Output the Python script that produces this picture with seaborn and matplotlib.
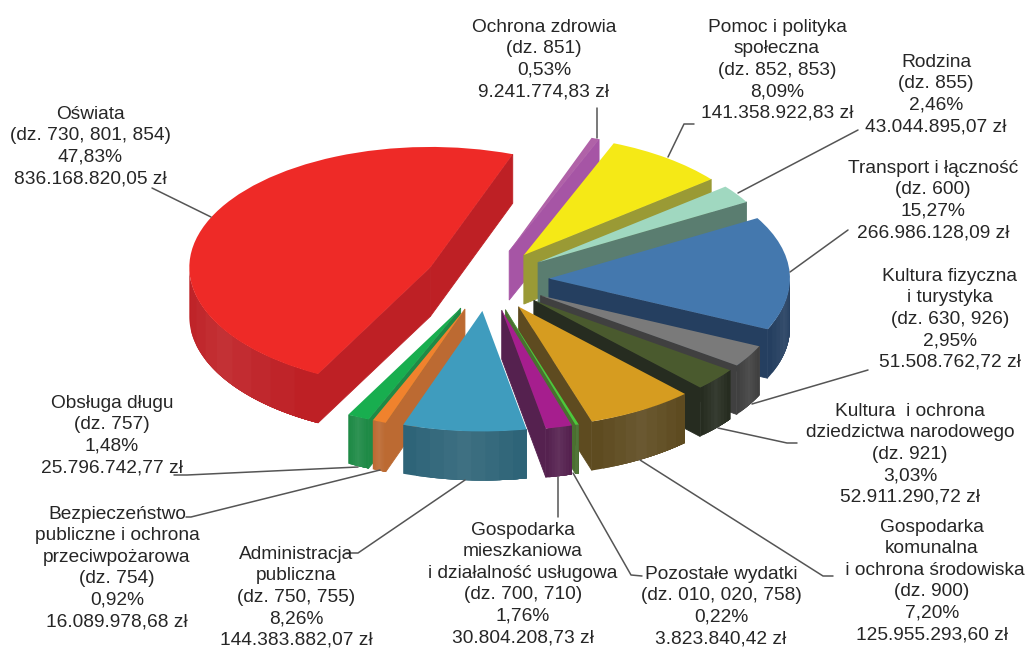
import numpy as np
import matplotlib
matplotlib.use('Agg')
import matplotlib.pyplot as plt
import seaborn as sns

names = ['Ochrona zdrowia', 'Pomoc i polityka\nspołeczna', 'Rodzina', 'Transport i łączność',
         'Kultura fizyczna\ni turystyka', 'Kultura  i ochrona\ndziedzictwa narodowego',
         'Gospodarka\nkomunalna\n i ochrona środowiska', 'Pozostałe wydatki',
         'Gospodarka\nmieszkaniowa\ni działalność usługowa', 'Administracja\npubliczna',
         'Bezpieczeństwo\npubliczne i ochrona\nprzeciwpożarowa', 'Obsługa długu', 'Oświata']
codes = ['851', '852, 853', '855', '600', '630, 926', '921', '900', '010, 020, 758',
         '700, 710', '750, 755', '754', '757', '730, 801, 854']
percents = [0.53, 8.09, 2.46, 15.27, 2.95, 3.03, 7.20, 0.22, 1.76, 8.26, 0.92, 1.48, 47.83]
amounts = [9241774.83, 141358922.83, 43044895.07, 266986128.09, 51508762.72, 52911290.72,
           125955293.60, 3823840.42, 30804208.73, 144383882.07, 16089978.68, 25796742.77,
           836168820.05]

face_colors = ['#B062A8', '#F5E916', '#A0D8C0', '#4478AE', '#7A7A7A', '#4A5A2E', '#D69C20',
               '#4CC83C', '#A61E8E', '#3F9CBE', '#F0822D', '#18AE4F', '#EE2A27']
wall_colors = ['#A655A5', '#9A9A35', '#5A7D70', '#253F60', '#404040', '#262C20', '#5E4B20',
               '#4A7030', '#55214F', '#2E6478', '#BC6A32', '#1E8A46', '#BE2025']
# back to front, painted in this order
paint_order = [12, 0, 1, 2, 3, 4, 5, 11, 10, 9, 6, 7, 8]

# label centre x, top y in picture pixels
label_pos = [(544, 19), (777, 19), (936, 54), (933, 160), (950, 268), (910, 403), (932, 519),
             (721, 566), (523, 522), (296, 546), (117, 506), (112, 395), (90, 106)]
leaders = [[(597, 138), (597, 108)],
           [(668, 157), (684, 124), (694, 124)],
           [(738, 193), (858, 130)],
           [(790, 272), (848, 230)],
           [(752, 404), (868, 370)],
           [(718, 428), (787, 443), (797, 443)],
           [(640, 460), (823, 576), (833, 576)],
           [(573, 473), (631, 575), (642, 576)],
           [(558, 477), (558, 517)],
           [(465, 480), (358, 553), (346, 553)],
           [(380, 470), (191, 517), (186, 517)],
           [(358, 467), (187, 475), (174, 475)],
           [(211, 217), (152, 188)]]

sns.set_theme(style='white')
plt.rcParams['font.family'] = ['Liberation Sans', 'DejaVu Sans']

W, H = 1026, 648
squash = 0.5
depth = 98
fig = plt.figure(figsize=(W / 100, H / 100), dpi=100)
ax = fig.add_axes([0, 0, 1, 1])


def py(y):
    return (H - y) / squash


wedges, _ = ax.pie(amounts, explode=[62] * len(amounts), startangle=70, counterclock=False,
                   colors=face_colors, radius=241, center=(487, py(280)),
                   wedgeprops={'linewidth': 0})
ax.set_aspect('auto')
ax.set_xlim(0, W)
ax.set_ylim(0, H / squash)
ax.axis('off')


def wall(xs, ys, color, z, lw=0):
    xs = np.asarray(xs)
    ys = np.asarray(ys)
    ax.fill(np.r_[xs, xs[::-1]], np.r_[ys, ys[::-1] - depth], color=color, lw=lw, zorder=z)


for z, i in enumerate(paint_order):
    w = wedges[i]
    cx, cy = w.center
    z = z * 3 + 2
    t_min, t_max = w.theta1, w.theta2
    for t, show in [(t_min, np.cos(np.radians(t_min)) > 0), (t_max, np.cos(np.radians(t_max)) < 0)]:
        if show:
            wall([cx, cx + w.r * np.cos(np.radians(t))], [cy, cy + w.r * np.sin(np.radians(t))],
                 wall_colors[i], z, lw=0.6)
    th = np.radians(np.linspace(t_min, t_max, 240))
    th = th[np.sin(th) < 0]
    if len(th) > 1:
        # faint vertical bands on the rounded side, each painted over the last so no seams
        mid = sns.blend_palette([wall_colors[i], '#ffffff'], 14)[1]
        bands = sns.blend_palette([wall_colors[i], mid, wall_colors[i]], 9)
        for k, c in enumerate(bands):
            part = th[int(k * len(th) / len(bands)):]
            wall(cx + w.r * np.cos(part), cy + w.r * np.sin(part), c, z + 1)
    w.set_zorder(z + 2)

for i, name in enumerate(names):
    amount = f'{amounts[i]:,.2f}'.replace(',', ' ').replace('.', ',').replace(' ', '.')
    pct = f'{percents[i]:.2f}'.replace('.', ',')
    label = f'{name}\n(dz. {codes[i]})\n{pct}%\n{amount} zł'
    ax.text(label_pos[i][0], py(label_pos[i][1]), label, ha='center', va='top',
            fontsize=13.8, color='#262626', linespacing=1.34, zorder=60)

for pts in leaders:
    ax.plot([p[0] for p in pts], [py(p[1]) for p in pts], color='#555555', lw=1.1, zorder=50)

fig.savefig('out.png', dpi=100)
